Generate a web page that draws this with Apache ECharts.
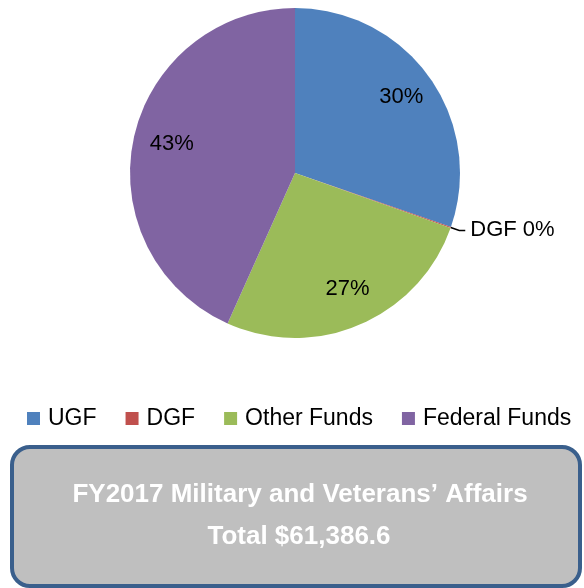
<!DOCTYPE html>
<html>
<head>
<meta charset="utf-8">
<script src="https://cdn.jsdelivr.net/npm/echarts@6/dist/echarts.min.js"></script>
<style>
html,body{margin:0;padding:0;background:#fff;}
#c{width:584px;height:588px;}
</style>
</head>
<body>
<div id="c"></div>
<script>
const categories = ['UGF', 'DGF', 'Other Funds', 'Federal Funds'];
const values = [30.3, 0.1, 26.3, 43.3];
const pctLabels = ['30%', '0%', '27%', '43%'];
const colors = ['#4F81BD', '#C0504D', '#9BBB59', '#8064A2'];
const boxTitle = 'FY2017 Military and Veterans\u2019 Affairs';
const boxTotal = 'Total $61,386.6';

const FONT = '"Liberation Sans", Arial, sans-serif';
const chart = echarts.init(document.getElementById('c'));

const mainData = categories.map((c, i) => ({
  name: c, value: values[i],
  itemStyle: { color: colors[i] },
  label: c === 'DGF' ? { show: true, formatter: 'DGF ' + pctLabels[i] } : { show: false },
  labelLine: c === 'DGF' ? { show: true } : { show: false }
}));
const overlayData = categories.map((c, i) => ({
  name: c, value: values[i],
  label: { show: c !== 'DGF', formatter: pctLabels[i] }
}));

chart.setOption({
  animation: false,
  legend: {
    data: categories,
    top: 402,
    left: 22,
    itemWidth: 13, itemHeight: 13, itemGap: 29,
    icon: 'rect',
    textStyle: { fontFamily: FONT, fontSize: 23, color: '#000', padding: [0, 0, 0, 3] },
    selectedMode: false
  },
  series: [
    {
      type: 'pie',
      center: [295, 173],
      radius: [0, 165],
      startAngle: 90,
      clockwise: true,
      silent: true,
      data: mainData,
      label: {
        position: 'outside',
        fontFamily: FONT, fontSize: 22, color: '#000',
        distanceToLabelLine: 5
      },
      labelLine: { length: 9, length2: 6, lineStyle: { color: '#000', width: 1.5 } },
      emphasis: { disabled: true }
    },
    {
      type: 'pie',
      center: [297, 171],
      radius: [84, 166],
      startAngle: 90,
      clockwise: true,
      silent: true,
      itemStyle: { color: 'rgba(0,0,0,0)' },
      data: overlayData,
      label: {
        position: 'inside',
        fontFamily: FONT, fontSize: 22, color: '#000'
      },
      labelLine: { show: false },
      emphasis: { disabled: true }
    }
  ],
  graphic: [
    {
      type: 'rect',
      shape: { x: 12, y: 447, width: 568, height: 139, r: 18 },
      style: { fill: '#BFBFBF', stroke: '#3A5F8C', lineWidth: 4 }
    },
    {
      type: 'text',
      x: 300, y: 495,
      style: {
        text: boxTitle, fill: '#fff',
        font: 'bold 26px ' + FONT,
        textAlign: 'center', textVerticalAlign: 'middle'
      }
    },
    {
      type: 'text',
      x: 299, y: 537,
      style: {
        text: boxTotal, fill: '#fff',
        font: 'bold 26px ' + FONT,
        textAlign: 'center', textVerticalAlign: 'middle'
      }
    }
  ]
});
</script>
</body>
</html>
